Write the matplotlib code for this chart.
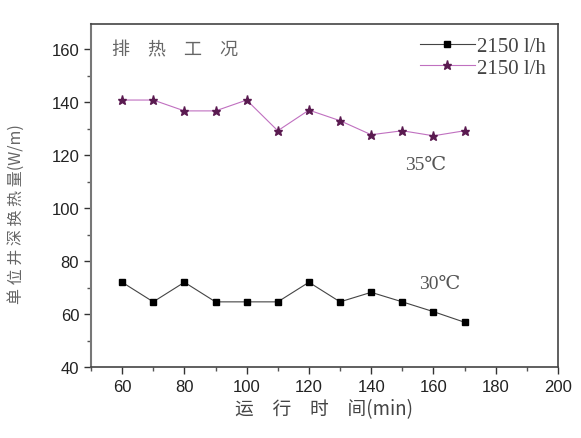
import matplotlib
matplotlib.use("Agg")
import matplotlib.pyplot as plt
from matplotlib.ticker import MultipleLocator

time_min = [60, 70, 80, 90, 100, 110, 120, 130, 140, 150, 160, 170]
q_30 = [72.0, 64.6, 72.0, 64.6, 64.6, 64.6, 72.0, 64.6, 68.2, 64.6, 60.9, 56.9]
q_35 = [140.8, 140.8, 136.7, 136.7, 140.8, 129.2, 137.0, 133.0, 127.7, 129.2, 127.3, 129.2]
legend_labels = ["2150 l/h", "2150 l/h"]

cjk = ["Noto Sans CJK SC", "DejaVu Sans"]
serif = ["Liberation Serif", "DejaVu Serif"]
sans = ["Liberation Sans", "DejaVu Sans"]

fig = plt.figure(figsize=(5.81, 4.39), dpi=100)
ax = fig.add_axes([0.1566, 0.1617, 0.8038, 0.7813])

ax.plot(time_min, q_30, color="#444444", lw=0.8, marker="s", ms=5,
        mfc="black", mec="black", label=legend_labels[0])
ax.plot(time_min, q_35, color="#c070c0", lw=0.8, marker="*", ms=6.5,
        mfc="#5a1a50", mec="#5a1a50", label=legend_labels[1])

ax.set_xlim(50, 200)
ax.set_ylim(40, 169.5)
ax.xaxis.set_major_locator(MultipleLocator(20))
ax.xaxis.set_minor_locator(MultipleLocator(10))
ax.yaxis.set_major_locator(MultipleLocator(20))
ax.yaxis.set_minor_locator(MultipleLocator(10))
ax.tick_params(which="major", direction="out", length=5, width=1, colors="#333333",
               labelsize=12, top=False, right=False)
ax.tick_params(which="minor", direction="out", length=3, width=1, colors="#555555",
               top=False, right=False)
for lab in ax.get_xticklabels() + ax.get_yticklabels():
    lab.set_family(sans)
    lab.set_color("#222222")
for s in ax.spines.values():
    s.set_color("#444444")
    s.set_linewidth(1.2)
ax.spines["left"].set_color("#777777")
ax.spines["left"].set_linewidth(1.5)

ax.set_xlabel("运\u3000行\u3000时\u3000间(min)", family=cjk, fontsize=13.5, color="#444444",
              labelpad=3)
ax.set_ylabel("单 位 井 深 换 热 量(W/m)", family=cjk, fontsize=11.5, color="#666666")
ax.yaxis.set_label_coords(-0.141, 0.45)

ax.text(56.7, 160, "排\u3000热\u3000工\u3000况", family=cjk, fontsize=13, color="#666666",
        va="center")
ax.text(150.8, 116.5, "35℃", family=serif, fontsize=14, color="#555555", va="center")
ax.text(155.3, 71.5, "30℃", family=serif, fontsize=14, color="#555555", va="center")

leg = ax.legend(loc="upper right", frameon=False, prop={"family": serif, "size": 15},
                handlelength=2.6, handletextpad=0.1, borderaxespad=0.1, labelspacing=0.1,
                borderpad=0.5)
for t in leg.get_texts():
    t.set_color("#444444")

fig.savefig("out.png", dpi=100)
